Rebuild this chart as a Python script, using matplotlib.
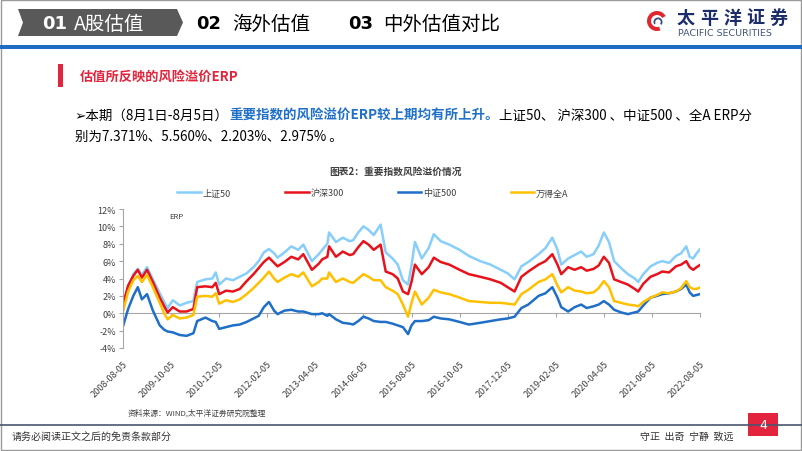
import numpy as np
import matplotlib.pyplot as plt
from matplotlib.patches import Polygon, Rectangle, Wedge

plt.rcParams['font.family'] = ['Noto Sans CJK SC', 'DejaVu Sans']

# months since 2008-08-05
months = [0, 1.5, 3, 4.3, 5.5, 7, 8.7, 10.7, 12, 13, 14.5, 16.5, 18.5, 20.5, 21.6, 24, 26, 27, 28,
          30, 32, 34, 36, 38, 39.5, 41, 42.5, 44, 45, 47, 49, 51, 52.5, 55, 57, 58, 59.5, 60, 62,
          64, 66, 67, 68.5, 70, 71.5, 73, 75, 76.5, 78.5, 80, 81.5, 83, 84, 85, 87, 89, 90.5, 92.5,
          95, 98, 100.7, 104, 107, 110, 112, 114, 116, 118, 121, 123, 125, 126.5, 127.6, 129.6,
          131.5, 133.4, 135, 137, 138.5, 140, 141.5, 143, 145, 147, 149, 150, 151.5, 153.6, 155.5,
          157, 159, 161, 162.5, 164, 165, 166, 167, 168]
sz50 = [1.0, 3.0, 4.5, 5.1, 4.4, 5.3, 3.9, 2.3, 1.3, 0.6, 1.5, 0.9, 1.2, 1.4, 3.6, 3.9, 4.0, 4.7, 3.3,
        4.0, 3.8, 4.2, 4.6, 5.3, 6.0, 7.0, 7.4, 6.9, 6.4, 7.0, 7.7, 7.3, 7.9, 6.0, 6.8, 7.3, 8.0, 9.3, 8.2,
        8.7, 8.3, 8.4, 9.3, 10.0, 9.6, 9.0, 10.2, 7.0, 6.3, 5.6, 3.8, 3.3, 5.5, 8.2, 6.3, 7.5, 9.1, 8.3,
        7.9, 7.3, 6.6, 6.0, 5.6, 5.0, 4.6, 3.9, 5.4, 5.9, 6.8, 7.5, 8.7, 7.3, 5.6, 6.3,
        6.7, 7.1, 6.5, 6.8, 7.8, 9.3, 8.2, 6.0, 5.2, 4.5, 4.0, 3.6, 4.5, 5.4, 5.8,
        6.0, 5.8, 6.6, 6.9, 7.7, 6.5, 6.3, 6.9, 7.371]
hs300 = [1.0, 3.2, 4.3, 5.0, 4.1, 5.0, 3.6, 1.8, 0.8, 0.1, 0.7, 0.2, 0.2, 0.5, 3.0, 3.1, 3.0, 3.5, 2.2,
         2.6, 2.5, 2.8, 3.7, 4.5, 5.2, 5.9, 6.4, 5.8, 5.4, 5.9, 6.5, 6.2, 6.8, 5.0, 5.7, 6.2, 6.5, 7.7, 6.5,
         7.1, 6.7, 6.8, 7.6, 8.3, 7.9, 7.3, 7.9, 4.8, 4.5, 4.0, 2.5, 2.2, 3.6, 5.6, 4.5, 5.3, 6.4, 5.9,
         5.6, 5.0, 4.5, 4.2, 3.9, 3.5, 3.0, 2.5, 4.2, 4.8, 5.6, 6.0, 6.8, 5.6, 4.5, 5.3,
         5.0, 5.3, 4.9, 5.1, 5.5, 6.5, 5.8, 3.9, 3.6, 3.3, 2.8, 2.5, 3.4, 4.2, 4.5,
         4.8, 4.7, 5.4, 5.6, 6.0, 5.3, 5.0, 5.3, 5.560]
zz500 = [-1.5, 0.5, 2.0, 3.0, 1.6, 2.2, 0.3, -1.4, -1.9, -2.1, -2.2, -2.5, -2.6, -2.3, -0.9, -0.5, -0.9, -1.0, -1.8,
         -1.6, -1.4, -1.3, -1.0, -0.6, -0.3, 0.7, 1.3, 0.3, -0.1, 0.3, 0.4, 0.2, 0.2, -0.1, -0.1, 0.0, -0.3, -0.1, -0.7,
         -1.1, -1.2, -1.3, -0.9, -0.4, -0.6, -0.9, -1.0, -1.0, -1.2, -1.4, -1.6, -2.4, -1.4, -0.9, -0.9, -0.8, -0.4, -0.6,
         -0.7, -1.0, -1.3, -1.1, -0.9, -0.7, -0.6, -0.4, 0.6, 1.0, 2.0, 2.3, 3.0, 1.8, 0.7, 0.2,
         0.7, 1.0, 0.6, 0.8, 1.0, 1.4, 1.0, 0.4, 0.1, -0.1, 0.1, 0.2, 0.9, 1.8, 2.0,
         2.2, 2.3, 2.5, 2.8, 3.3, 2.4, 2.0, 2.1, 2.203]
wdqa = [0.2, 2.5, 3.8, 4.3, 3.6, 4.4, 3.0, 1.2, 0.0, -0.7, -0.2, -0.6, -0.5, -0.2, 1.9, 2.0, 1.9, 2.3, 1.1,
        1.5, 1.3, 1.6, 2.2, 2.9, 3.5, 4.1, 4.8, 4.0, 3.6, 4.1, 4.5, 4.2, 4.7, 3.1, 3.6, 4.0, 4.0, 4.7, 3.6,
        4.0, 3.6, 3.5, 4.0, 4.5, 4.2, 3.8, 3.8, 3.0, 2.6, 2.2, 1.0, -0.4, 1.2, 2.5, 1.0, 1.8, 2.7, 2.4,
        2.2, 1.8, 1.4, 1.3, 1.2, 1.2, 1.1, 1.0, 2.2, 2.7, 3.6, 3.9, 4.5, 3.2, 2.4, 3.0,
        2.6, 2.5, 2.3, 2.4, 2.9, 3.7, 3.0, 1.4, 1.2, 1.0, 0.9, 0.8, 1.3, 1.8, 2.1,
        2.4, 2.3, 2.5, 2.9, 3.7, 3.0, 2.8, 2.8, 2.975]

tick_months = list(range(0, 169, 14))
tick_labels = ['2008-08-05', '2009-10-05', '2010-12-05', '2012-02-05', '2013-04-05', '2014-06-05',
               '2015-08-05', '2016-10-05', '2017-12-05', '2019-02-05', '2020-04-05', '2021-06-05',
               '2022-08-05']
y_ticks = [-4, -2, 0, 2, 4, 6, 8, 10, 12]

series_names = ['上证50', '沪深300', '中证500', '万得全A']
series_colors = ['#87CEFA', '#E8121B', '#1F6FC8', '#FFC000']

fig = plt.figure(figsize=(8.02, 4.52), dpi=100)

# slide background drawn in pixel coordinates
bg = fig.add_axes([0, 0, 1, 1])
bg.set_xlim(0, 802)
bg.set_ylim(452, 0)
bg.axis('off')

bg.add_patch(Rectangle((0.5, 0.5), 800.5, 450.5, fill=False, ec='#9A9A9A', lw=1))
bg.add_patch(Rectangle((0, 46), 802, 3.5, fc='#1E6DC1', ec='none'))

# header tabs
bg.add_patch(Polygon([(18, 10), (177, 10), (183, 23.5), (177, 37), (18, 37), (23, 23.5)],
                     fc='#595959', ec='none'))
bg.text(42, 24, '01', color='white', fontsize=13, fontweight='bold', va='center', family='DejaVu Sans')
bg.text(74, 24, 'A股估值', color='white', fontsize=14, va='center')
bg.text(196, 24, '02', color='black', fontsize=13, fontweight='bold', va='center', family='DejaVu Sans')
bg.text(232, 24, '海外估值', color='black', fontsize=14, va='center')
bg.text(348, 24, '03', color='black', fontsize=13, fontweight='bold', va='center', family='DejaVu Sans')
bg.text(383, 24, '中外估值对比', color='black', fontsize=14, va='center')

# logo
bg.add_patch(Wedge((657, 22), 10, 70, 330, width=4, fc='#E0262E', ec='none'))
bg.add_patch(Wedge((658, 23), 4.5, 150, 40, width=1.8, fc='#3C4E7A', ec='none'))
for i, ch in enumerate('太平洋证券'):
    bg.text(677 + i * 23, 18, ch, color='#1C2D6B', fontsize=13, fontweight='bold', va='center')
bg.text(678, 34, 'PACIFIC SECURITIES', color='#44557A', fontsize=6.8, va='center', family='DejaVu Sans')

# section title
bg.add_patch(Rectangle((58, 65), 5, 23, fc='#E2243C', ec='none'))
bg.text(80, 77, '估值所反映的风险溢价ERP', color='#E2243C', fontsize=9.5, fontweight='bold', va='center')

# body text
t1 = bg.text(75, 116, '➢本期（8月1日-8月5日）', color='black', fontsize=9.7, va='center')
t2 = bg.annotate('重要指数的风险溢价ERP较上期均有所上升。', xy=(1, 0.5), xycoords=t1,
                 color='#1F70C8', fontsize=9.7, fontweight='bold', va='center')
bg.annotate('上证50、 沪深300 、中证500 、全A ERP分', xy=(1, 0.5), xycoords=t2,
            color='black', fontsize=9.7, va='center')
bg.text(75, 137, '别为7.371%、5.560%、2.203%、2.975% 。', color='black', fontsize=9.7, va='center')

# chart
bg.text(395, 172, '图表2：重要指数风险溢价情况', color='#404040', fontsize=7, fontweight='bold',
        ha='center', va='center')

ax = fig.add_axes([123 / 802, 1 - 349 / 452, 577 / 802, 139 / 452])
ax.set_facecolor('none')
lines = []
for vals, name, col in zip([sz50, hs300, zz500, wdqa], series_names, series_colors):
    ln, = ax.plot(months, vals, color=col, lw=1.8, label=name)
    lines.append(ln)

ax.set_xlim(0, 168)
ax.set_ylim(-4, 12)
ax.set_yticks(y_ticks)
ax.set_yticklabels([f'{v}%' for v in y_ticks])
ax.set_xticks(tick_months)
ax.set_xticklabels(tick_labels)
ax.spines['top'].set_visible(False)
ax.spines['right'].set_visible(False)
ax.spines['left'].set_color('#A6A6A6')
ax.spines['bottom'].set_position(('data', 0))
ax.spines['bottom'].set_color('#A6A6A6')
ax.spines['bottom'].set_zorder(0)
ax.tick_params(axis='y', colors='#A6A6A6', labelcolor='#404040', labelsize=6.5, length=3, pad=2)
ax.tick_params(axis='x', colors='#A6A6A6', labelcolor='#404040', labelsize=6.5, length=3, pad=30)
plt.setp(ax.get_xticklabels(), rotation=45, ha='right', va='top', rotation_mode='anchor')
ax.text(0.081, 0.95, 'ERP', transform=ax.transAxes, fontsize=5.5, color='#404040', va='center')

fig.legend(handles=lines, loc='center', bbox_to_anchor=(373 / 802, 1 - 194 / 452), ncol=4,
           frameon=False, fontsize=6.5, handlelength=2.6, handletextpad=0.2, columnspacing=6.0,
           labelcolor='#404040')

bg.text(128, 413, '资料来源：WIND,太平洋证券研究院整理', color='#404040', fontsize=5.6, va='center')

# footer
bg.plot([0, 802], [426, 426], color='#4A5670', lw=1.2)
bg.add_patch(Rectangle((748, 414), 30, 23, fc='#E2243C', ec='none'))
bg.text(763, 425.5, '4', color='white', fontsize=9, ha='center', va='center', family='DejaVu Sans')
bg.text(12, 437, '请务必阅读正文之后的免责条款部分', color='#333333', fontsize=7.2, va='center')
bg.text(640, 437, '守正  出奇  宁静  致远', color='#333333', fontsize=7.2, va='center')

fig.savefig('out.png', dpi=100)
